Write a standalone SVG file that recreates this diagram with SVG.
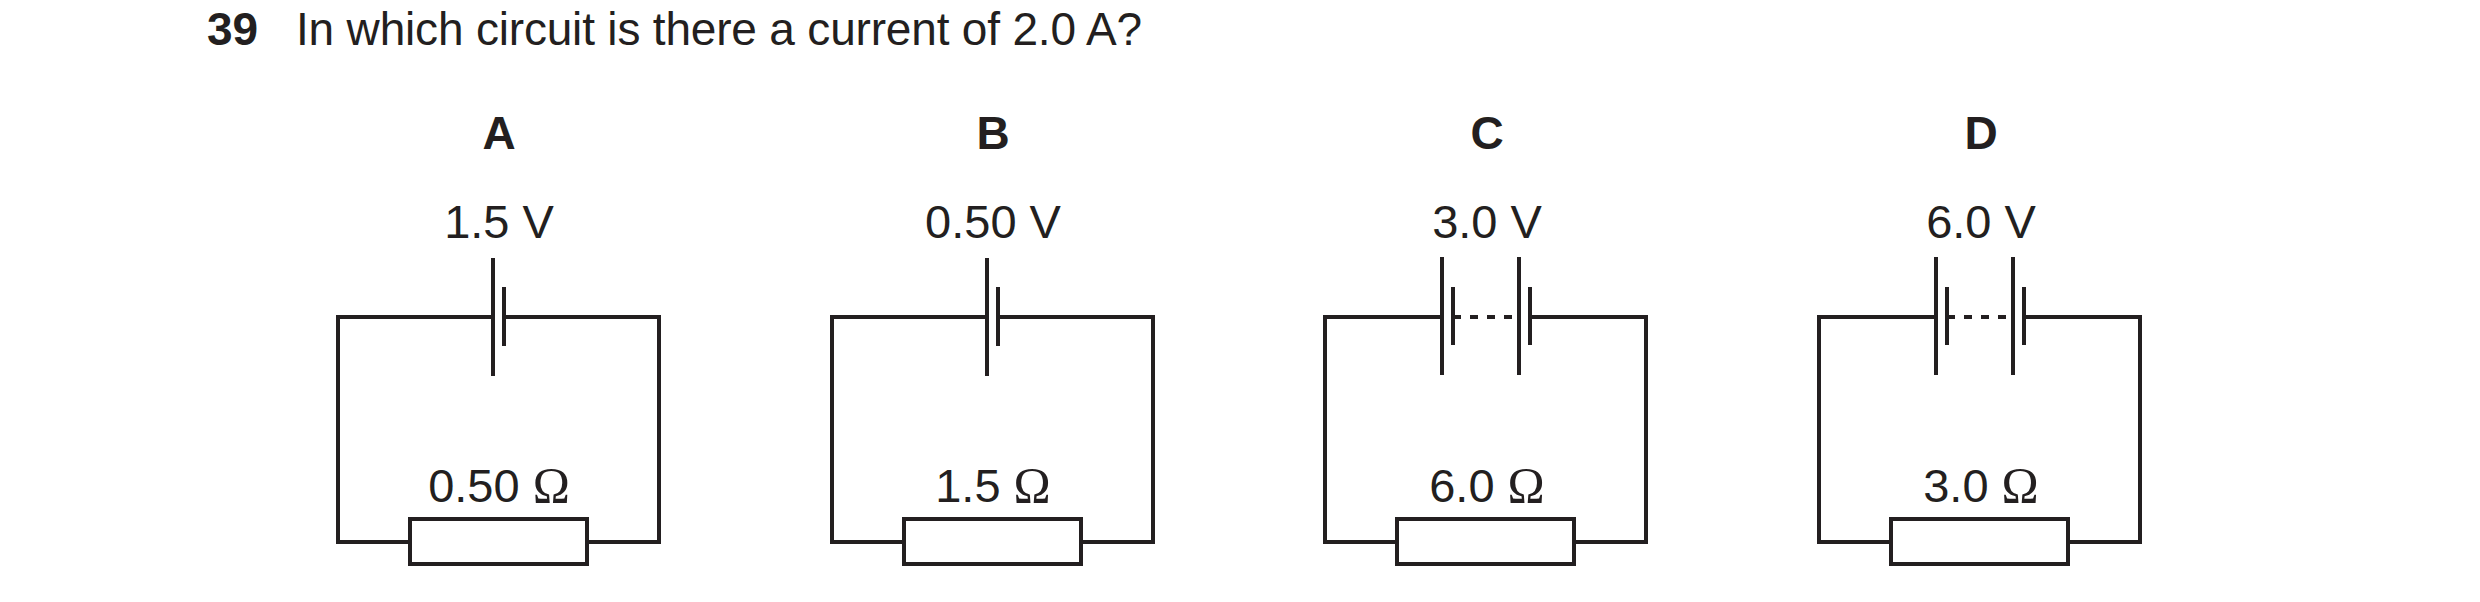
<svg xmlns="http://www.w3.org/2000/svg" width="2480" height="602" viewBox="0 0 2480 602">
<style>
text{font-family:"Liberation Sans",Arial,sans-serif;fill:#231f20}
.t{font-size:46px}
.h{font-size:46px;font-weight:bold;text-anchor:middle}
.l{font-size:47px;text-anchor:middle}
.w{fill:none;stroke:#231f20;stroke-width:4}
.o{font-family:"Liberation Serif",serif;font-size:50px}
</style>
<rect width="2480" height="602" fill="#fff"/>
<text class="t" x="207" y="45" font-weight="bold">39</text>
<text class="t" x="296" y="45" textLength="846">In which circuit is there a current of 2.0 A?</text>
<defs>
<g id="frame">
<path class="w" d="M410,542 H338 V317 H493 M504,317 H659 V542 H587"/>
<rect class="w" x="410" y="519" width="177" height="45"/>
</g>
<g id="frame2">
<path class="w" d="M410,542 H338 V317 H455 M543,317 H659 V542 H587"/>
<rect class="w" x="410" y="519" width="177" height="45"/>
<path class="w" d="M455,257 V375 M466,287 V345 M532,257 V375 M543,287 V345"/>
<path class="w" d="M466,317 H532" stroke-dasharray="8,9"/>
</g>
</defs>
<g id="A">
<use href="#frame"/>
<path class="w" d="M493,258 V376 M504,287 V346"/>
<text class="h" x="499" y="149">A</text>
<text class="l" x="499" y="238">1.5 V</text>
<text class="l" x="499" y="502">0.50 <tspan class="o">Ω</tspan></text>
</g>
<g id="B" transform="translate(494,0)">
<use href="#frame"/>
<path class="w" d="M493,258 V376 M504,287 V346"/>
<text class="h" x="499" y="149">B</text>
<text class="l" x="499" y="238">0.50 V</text>
<text class="l" x="499" y="502">1.5 <tspan class="o">Ω</tspan></text>
</g>
<g id="C" transform="translate(988,0)">
<use href="#frame2" transform="translate(-1,0)"/>
<text class="h" x="499" y="149">C</text>
<text class="l" x="499" y="238">3.0 V</text>
<text class="l" x="499" y="502">6.0 <tspan class="o">Ω</tspan></text>
</g>
<g id="D" transform="translate(1482,0)">
<use href="#frame2" transform="translate(-1,0)"/>
<text class="h" x="499" y="149">D</text>
<text class="l" x="499" y="238">6.0 V</text>
<text class="l" x="499" y="502">3.0 <tspan class="o">Ω</tspan></text>
</g>
</svg>
